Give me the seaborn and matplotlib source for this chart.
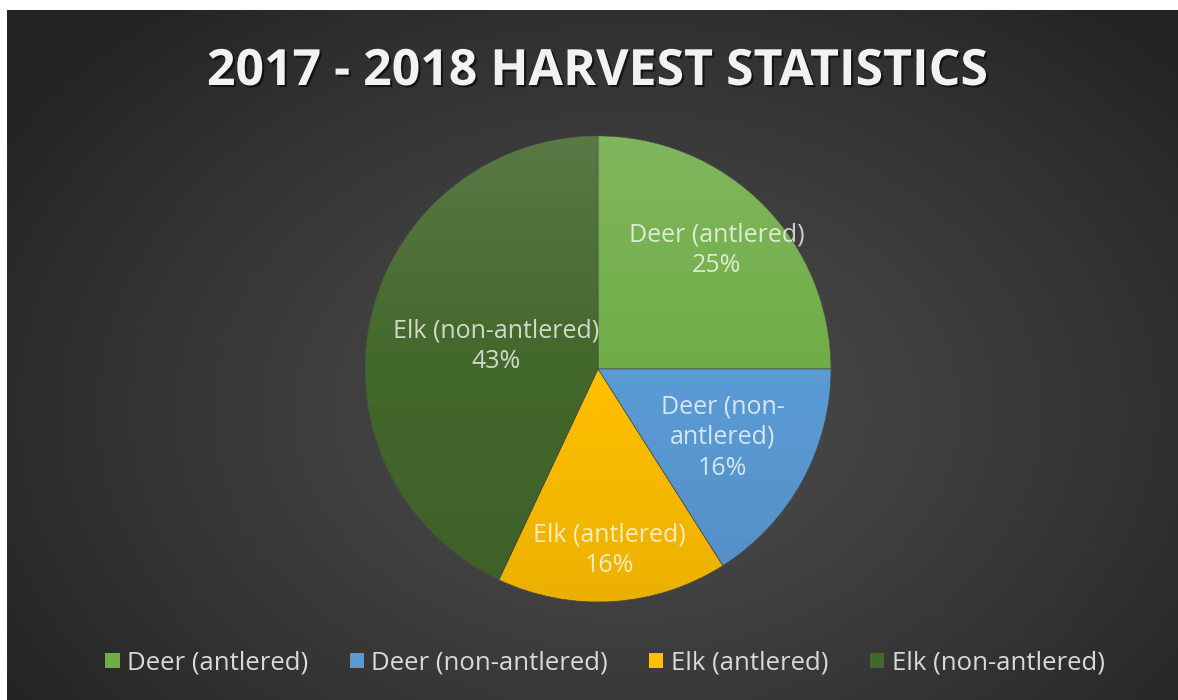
import numpy as np
import matplotlib
matplotlib.use("Agg")
import matplotlib.pyplot as plt
import matplotlib.patheffects as pe
from matplotlib.patches import Patch, Circle
import seaborn as sns

# data
categories = ['Deer (antlered)', 'Deer (non-antlered)', 'Elk (antlered)', 'Elk (non-antlered)']
pie_labels = ['Deer (antlered)', 'Deer (non-\nantlered)', 'Elk (antlered)', 'Elk (non-antlered)']
shares = [25, 16, 16, 43]
colors = ['#70ad47', '#5b9bd5', '#ffc000', '#43682b']
label_r = [0.72, 0.61, 0.78, 0.45]

sns.set_theme(style='dark')
plt.rcParams['font.family'] = ['Open Sans', 'DejaVu Sans']

W, H = 1178, 700
fig = plt.figure(figsize=(W / 100, H / 100), dpi=100, facecolor='white')

# dark panel with radial gradient
bg = fig.add_axes([7 / W, 0, 1 - 7 / W, 690 / H])
bg.set_axis_off()
yy, xx = np.mgrid[0:690, 0:1171]
d = np.sqrt(((xx - 620) / 720) ** 2 + ((yy - 400) / 520) ** 2)
d = np.clip(d, 0, 1)
v = 0.30 - 0.155 * d ** 1.2
bg.imshow(np.dstack([v, v, v]), aspect='auto', extent=[0, 1, 0, 1], origin='upper')
bg.set_xlim(0, 1)
bg.set_ylim(0, 1)

# pie
cx, cy, R = 598, 369, 233
ax = fig.add_axes([(cx - R) / W, (H - cy - R) / H, 2 * R / W, 2 * R / H])
ax.set_facecolor('none')
wedges, _ = ax.pie(shares, colors=colors, startangle=90, counterclock=False, radius=1,
                   wedgeprops=dict(edgecolor='#4a4a4a', linewidth=0.5))

# soft vertical shading on the pie
gy = np.linspace(0, 1, 256)[:, None]
shade = np.zeros((256, 2, 4))
top = np.clip(1 - gy / 0.5, 0, 1)
bot = np.clip((gy - 0.5) / 0.5, 0, 1)
shade[..., :3] = np.where(top > 0, 1.0, 0.0)[..., None]
shade[..., 3] = (0.12 * top + 0.08 * bot)
im = ax.imshow(shade, extent=[-1, 1, -1, 1], aspect='auto', zorder=3)
clip = Circle((0, 0), 1, transform=ax.transData)
im.set_clip_path(clip)

for w, lab, s, r in zip(wedges, pie_labels, shares, label_r):
    th = np.deg2rad((w.theta1 + w.theta2) / 2)
    ax.text(r * np.cos(th), r * np.sin(th), f'{lab}\n{s}%', ha='center', va='center',
            fontsize=18, color='white', alpha=0.75, linespacing=1.3, zorder=4)

ax.set_xlim(-1, 1)
ax.set_ylim(-1, 1)
ax.set_aspect('equal')
ax.set_axis_off()

# title
fig.text(598 / W, 1 - 72 / H, '2017 - 2018 HARVEST STATISTICS', ha='center', va='center',
         fontsize=36, fontweight='bold', color='#f2f2f2',
         path_effects=[pe.withSimplePatchShadow(offset=(1.5, -1.5), shadow_rgbFace='black', alpha=0.6)])

# legend
handles = [Patch(facecolor=c, edgecolor='none') for c in colors]
leg = fig.legend(handles, categories, loc='center', bbox_to_anchor=(605 / W, 1 - 663 / H), ncol=4,
                 frameon=False, fontsize=18.5, handlelength=0.55, handleheight=0.55,
                 handletextpad=0.3, columnspacing=1.6)
for t in leg.get_texts():
    t.set_color('#d9d9d9')

fig.savefig('out.png', dpi=100, facecolor='white')
